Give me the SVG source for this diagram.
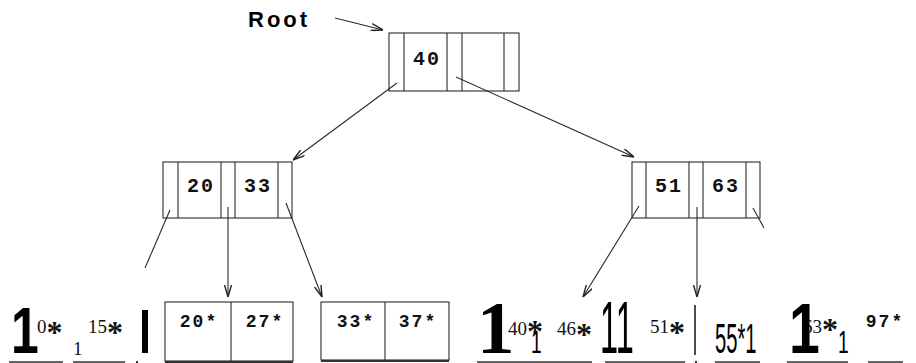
<svg xmlns="http://www.w3.org/2000/svg" width="916" height="363" viewBox="0 0 916 363">
<style>
.box{fill:none;stroke:#2a2a2a;stroke-width:1.1}
.ln{fill:none;stroke:#2a2a2a;stroke-width:1.1}
.ul{stroke:#333;stroke-width:1.5}
.key{font-family:"Liberation Mono",monospace;font-weight:bold;font-size:20px;fill:#111;letter-spacing:2px;text-anchor:middle}
.lkey{font-family:"Liberation Mono",monospace;font-weight:bold;font-size:18px;fill:#111;letter-spacing:2px;text-anchor:middle}
.ser{font-family:"Liberation Serif",serif;font-size:19px;fill:#111}
.st{font-weight:bold;font-size:32px}
.bsans{font-family:"Liberation Sans",sans-serif;font-weight:bold;fill:#000}
.sans{font-family:"Liberation Sans",sans-serif;fill:#000}
</style>
<defs>
<marker id="ah" viewBox="0 0 12 8" refX="12" refY="4" markerWidth="12" markerHeight="8" markerUnits="userSpaceOnUse" orient="auto">
<path d="M0,0.5 L12,4 L0,7.5" fill="none" stroke="#222" stroke-width="1.4"/>
</marker>
</defs>
<rect width="916" height="363" fill="#fff"/>

<g id="root-label">
<text x="248" y="27" class="bsans" font-size="22" letter-spacing="3">Root</text>
</g>

<g id="root">
<rect class="box" x="389" y="33" width="130" height="58"/>
<line class="ln" x1="404" y1="33" x2="404" y2="91"/>
<line class="ln" x1="447" y1="33" x2="447" y2="91"/>
<line class="ln" x1="462" y1="33" x2="462" y2="91"/>
<line class="ln" x1="504" y1="33" x2="504" y2="91"/>
<text class="key" x="427" y="65">40</text>
</g>

<g id="node-20-33">
<rect class="box" x="163" y="162" width="129" height="56"/>
<line class="ln" x1="178" y1="162" x2="178" y2="218"/>
<line class="ln" x1="221" y1="162" x2="221" y2="218"/>
<line class="ln" x1="235" y1="162" x2="235" y2="218"/>
<line class="ln" x1="278" y1="162" x2="278" y2="218"/>
<text class="key" x="201" y="192">20</text>
<text class="key" x="258" y="192">33</text>
</g>

<g id="node-51-63">
<rect class="box" x="632" y="162" width="128" height="56"/>
<line class="ln" x1="646" y1="162" x2="646" y2="218"/>
<line class="ln" x1="689" y1="162" x2="689" y2="218"/>
<line class="ln" x1="703" y1="162" x2="703" y2="218"/>
<line class="ln" x1="746" y1="162" x2="746" y2="218"/>
<text class="key" x="669" y="192">51</text>
<text class="key" x="726" y="192">63</text>
</g>

<g id="connectors">
<line class="ln" x1="335" y1="18" x2="383" y2="30" marker-end="url(#ah)"/>
<line class="ln" x1="397" y1="83" x2="293" y2="160" marker-end="url(#ah)"/>
<line class="ln" x1="456" y1="77" x2="634" y2="157" marker-end="url(#ah)"/>
<line class="ln" x1="170" y1="210" x2="145" y2="268"/>
<line class="ln" x1="228" y1="207" x2="228" y2="297" marker-end="url(#ah)"/>
<line class="ln" x1="286" y1="203" x2="322" y2="297" marker-end="url(#ah)"/>
<line class="ln" x1="639" y1="206" x2="583" y2="297" marker-end="url(#ah)"/>
<line class="ln" x1="697" y1="207" x2="697" y2="297" marker-end="url(#ah)"/>
<line class="ln" x1="753" y1="208" x2="764" y2="228"/>
</g>

<g id="leaf-10-15">
<text class="bsans" transform="translate(11,353) scale(0.78,1)" font-size="64">1</text>
<text class="ser" x="37" y="333">0<tspan class="st" dy="10">*</tspan></text>
<text class="ser" x="73" y="355" font-size="18">1</text>
<text class="ser" x="88" y="333">15<tspan class="st" dy="10">*</tspan></text>
<line class="ul" x1="9" y1="362" x2="63" y2="362"/>
<line class="ul" x1="73" y1="362" x2="125" y2="362"/>
<rect x="136" y="361" width="2" height="2" fill="#333"/>
<rect x="142" y="310" width="6" height="43" fill="#000"/>
</g>

<g id="leaf-20-27">
<rect class="box" x="165" y="302" width="128" height="59"/>
<line class="ln" x1="231" y1="302" x2="231" y2="361"/>
<line x1="165" y1="362" x2="293" y2="362" stroke="#333" stroke-width="2"/>
<text class="lkey" x="199" y="327">20*</text>
<text class="lkey" x="265" y="327">27*</text>
</g>

<g id="leaf-33-37">
<rect class="box" x="321" y="302" width="128" height="58"/>
<line class="ln" x1="385" y1="302" x2="385" y2="360"/>
<line x1="321" y1="361" x2="449" y2="361" stroke="#333" stroke-width="2"/>
<text class="lkey" x="356" y="327">33*</text>
<text class="lkey" x="418" y="327">37*</text>
</g>

<g id="leaf-40-46">
<text x="477" y="353" font-family="Liberation Serif,serif" font-weight="bold" font-size="75" fill="#000">1</text>
<text class="ser" x="508" y="335" font-size="18">40<tspan class="st" font-size="22" dy="7">*</tspan></text>
<text class="sans" transform="translate(531,353) scale(0.6,1)" font-size="32">1</text>
<text class="ser" x="557" y="335">46<tspan class="st" dy="10">*</tspan></text>
<line class="ul" x1="477" y1="362" x2="592" y2="362"/>
</g>

<g id="leaf-51-55">
<text class="sans" transform="translate(600,353) scale(0.44,1)" font-size="74">11</text>
<text class="ser" x="650" y="333">51<tspan class="st" dy="10">*</tspan></text>
<line x1="695" y1="305" x2="695" y2="355" stroke="#111" stroke-width="1.5"/>
<line class="ul" x1="605" y1="362" x2="685" y2="362"/>
<rect x="695" y="361" width="2" height="2" fill="#333"/>
<text class="sans" transform="translate(715,353) scale(0.47,1)" font-size="43">55*1</text>
<line class="ul" x1="715" y1="362" x2="760" y2="362"/>
</g>

<g id="leaf-63-97">
<text class="ser" x="803" y="333">63<tspan class="st" font-size="22" dy="7">*</tspan></text>
<text class="bsans" transform="translate(789,353) scale(0.78,1)" font-size="71">1</text>
<text class="sans" transform="translate(838,353) scale(0.6,1)" font-size="32">1</text>
<text class="lkey" x="885" y="327" font-weight="normal">97*</text>
<line class="ul" x1="787" y1="362" x2="848" y2="362"/>
<line class="ul" x1="868" y1="362" x2="903" y2="362"/>
</g>
</svg>
